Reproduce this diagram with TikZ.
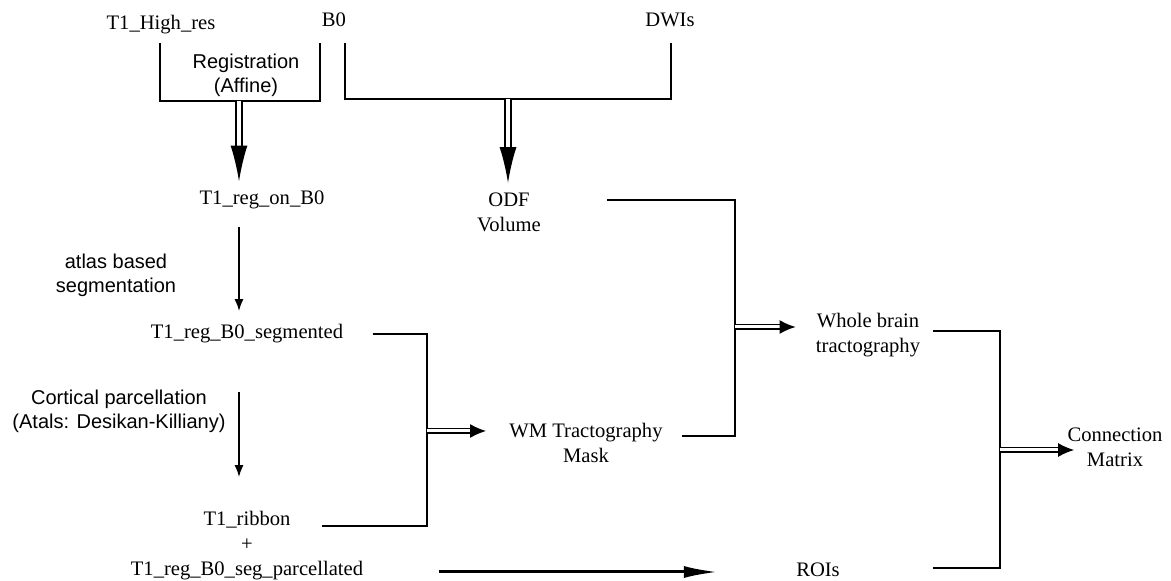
\documentclass[tikz,border=0pt]{standalone}
\usepackage{fontspec}
\setmainfont{Liberation Serif}
\newfontfamily\notefont{Liberation Sans}
\usetikzlibrary{arrows.meta,positioning,calc}

\begin{document}
\begin{tikzpicture}[
    x=0.5pt, y=-0.5pt,
    data/.style={inner sep=0pt, align=center, font=\fontsize{10.3}{12.5}\selectfont},
    note/.style={inner sep=0pt, align=center, font=\notefont\fontsize{10}{12}\selectfont},
    line/.style={line width=1pt},
    arrow/.style={line width=1pt, -{Latex[length=6pt, width=4.5pt]}},
    longarrow/.style={line width=1.5pt, -{Latex[length=17pt, width=6pt]}},
    merge/.style={double, double distance=1.5pt, line width=0.7pt, -{Latex[length=8pt, width=7pt]}},
    bigmerge/.style={double, double distance=2.2pt, line width=0.9pt, -{Latex[length=18pt, width=8.5pt]}}
]
    \useasboundingbox (0,0) rectangle (1171,581);

    % Inputs
    \node[data] (t1high) at (161,25) {T1\_High\_res};
    \node[data] (bzero) at (334,20) {B0};
    \node[data] (dwis) at (670,20) {DWIs};

    % Left column
    \node[note] (reg) at (246,75) {Registration\\(Affine)};
    \node[data] (t1reg) at (262,200) {T1\_reg\_on\_B0};
    \node[note] (atlas) at (116,275) {atlas based\\segmentation};
    \node[data] (seg) at (247,334) {T1\_reg\_B0\_segmented};
    \node[note] (cortical) at (119,411) {Cortical parcellation\\(Atals: Desikan-Killiany)};
    \node[data] (ribbon) at (247,546) {T1\_ribbon\\+\\T1\_reg\_B0\_seg\_parcellated};

    % Middle and right
    \node[data] (odf) at (509,212) {ODF\\Volume};
    \node[data] (wm) at (586,443) {WM Tractography\\Mask};
    \node[data] (whole) at (868,335) {Whole brain\\tractography};
    \node[data] (rois) at (818,570) {ROIs};
    \node[data] (conn) at (1115,447) {Connection\\Matrix};

    % Junctions
    \coordinate (regL) at (160,43);
    \coordinate (regR) at (320,43);
    \coordinate (regB) at (239,101);
    \coordinate (odfL) at (345,43);
    \coordinate (odfR) at (671,43);
    \coordinate (odfB) at (508,99);
    \coordinate (segJ) at (427,431);
    \coordinate (ribEnd) at (322,526);
    \coordinate (odfEnd) at (607,200);
    \coordinate (wmEnd) at (682,436);
    \coordinate (wbJ) at (735,327);
    \coordinate (wbEnd) at (933,331);
    \coordinate (roisEnd) at (933,568);
    \coordinate (cmJ) at (1000,450);

    % Brackets
    \draw[line] (regL) |- (regB) -| (regR);
    \draw[line] (odfL) |- (odfB) -| (odfR);
    \draw[line] ([xshift=14.5pt]seg.east) -| (segJ) |- (ribEnd);
    \draw[line] (odfEnd) -| (wbJ) |- (wmEnd);
    \draw[line] (wbEnd) -| (cmJ) |- (roisEnd);

    % Edges
    \draw[bigmerge] (regB) -- ([yshift=4.5pt]regB |- t1reg.north);
    \draw[bigmerge] (odfB) -- ([yshift=4.5pt]odfB |- odf.north);
    \draw[arrow, shorten <=9pt, shorten >=6.5pt] (regB |- t1reg.south) -- (regB |- seg.north);
    \draw[arrow, shorten <=24pt, shorten >=17pt] (regB |- seg.south) -- (regB |- ribbon.north);
    \draw[merge] (segJ) -- ([xshift=-11.5pt]segJ -| wm.west);
    \draw[merge] (wbJ) -- ([xshift=-10pt]wbJ -| whole.west);
    \draw[merge] (cmJ) -- ([xshift=3.5pt]cmJ -| conn.west);
    \draw[longarrow] ([xshift=37.5pt,yshift=-1pt]ribbon.east |- rois) -- ([xshift=-39pt,yshift=-1pt]rois.west);
\end{tikzpicture}
\end{document}
